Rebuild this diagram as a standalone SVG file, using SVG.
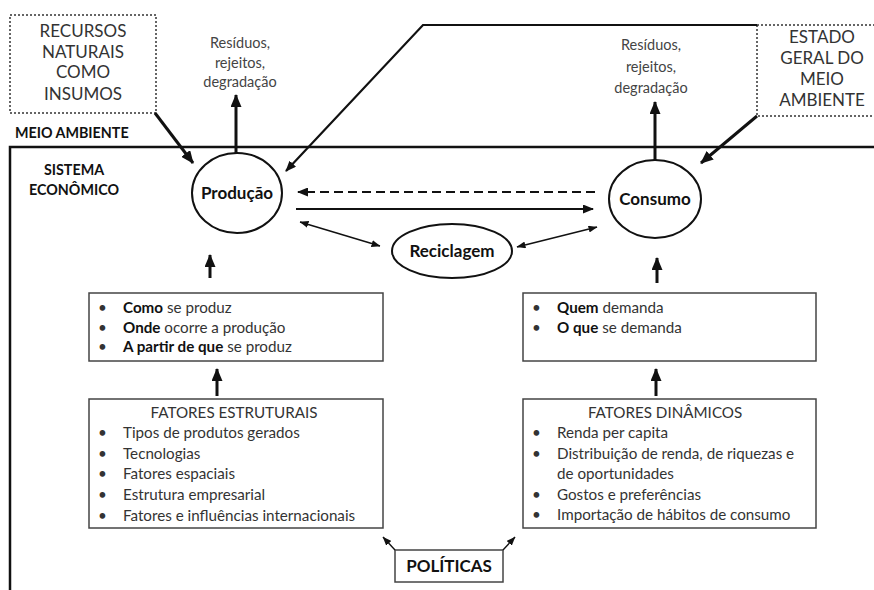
<svg xmlns="http://www.w3.org/2000/svg" width="874" height="590" viewBox="0 0 874 590">
<defs>
<style>
text{font-family:Lato,"Liberation Sans",sans-serif;}
.b{font-weight:bold;fill:#111;}
.n{fill:#333;}
.big{font-size:17px;}
.sm{font-size:15.2px;}
.res{font-size:14.5px;fill:#444;}
.lbl{font-size:14.3px;font-weight:bold;fill:#111;}
.box{fill:#fff;stroke:#444;stroke-width:1.5;}
.dot{fill:#fff;stroke:#333;stroke-width:1.5;stroke-dasharray:2,2;}
.ell{fill:#fff;stroke:#111;stroke-width:2;}
.thick{fill:none;stroke:#111;stroke-width:3;}
.med{fill:none;stroke:#111;stroke-width:2.2;}
.thin{fill:none;stroke:#111;stroke-width:1.4;}
</style>
<marker id="ah" markerWidth="13" markerHeight="11" refX="12" refY="5.5" orient="auto" markerUnits="userSpaceOnUse"><path d="M0,0 L13,5.5 L0,11 z" fill="#111"/></marker>
<marker id="am" markerWidth="11" markerHeight="9" refX="10" refY="4.5" orient="auto" markerUnits="userSpaceOnUse"><path d="M0,0 L11,4.5 L0,9 z" fill="#111"/></marker>
<marker id="at" markerWidth="9" markerHeight="7" refX="8.5" refY="3.5" orient="auto-start-reverse" markerUnits="userSpaceOnUse"><path d="M0,0 L9,3.5 L0,7 z" fill="#111"/></marker>
</defs>
<rect width="874" height="590" fill="#fff"/>

<g id="sistema">
<rect x="10" y="147" width="880" height="460" fill="none" stroke="#111" stroke-width="2.5"/>
<text x="15" y="138" class="lbl">MEIO AMBIENTE</text>
<text x="74" y="175" class="lbl" text-anchor="middle">SISTEMA</text>
<text x="74" y="195" class="lbl" text-anchor="middle">ECONÔMICO</text>
</g>

<g id="recursos">
<rect x="10" y="15" width="146" height="98" class="dot"/>
<text class="n big" text-anchor="middle" x="83"><tspan x="83" y="37">RECURSOS</tspan><tspan x="83" y="58">NATURAIS</tspan><tspan x="83" y="78">COMO</tspan><tspan x="83" y="100">INSUMOS</tspan></text>
</g>

<g id="estado">
<rect x="757" y="25" width="130" height="91" class="dot"/>
<text class="n big" text-anchor="middle" x="822"><tspan x="822" y="43">ESTADO</tspan><tspan x="822" y="64">GERAL DO</tspan><tspan x="822" y="85">MEIO</tspan><tspan x="822" y="106">AMBIENTE</tspan></text>
</g>

<g id="residuos1">
<text class="res" text-anchor="middle"><tspan x="240" y="48">Resíduos,</tspan><tspan x="240" y="68">rejeitos,</tspan><tspan x="240" y="87">degradação</tspan></text>
</g>
<g id="residuos2">
<text class="res" text-anchor="middle"><tspan x="651" y="50">Resíduos,</tspan><tspan x="651" y="72">rejeitos,</tspan><tspan x="651" y="93">degradação</tspan></text>
</g>

<g id="producao">
<ellipse cx="237" cy="193" rx="45" ry="40" class="ell"/>
<text x="237" y="199" class="b big" text-anchor="middle">Produção</text>
</g>

<g id="consumo">
<ellipse cx="655" cy="199" rx="46" ry="39" class="ell"/>
<text x="655" y="205" class="b big" text-anchor="middle">Consumo</text>
</g>

<g id="reciclagem">
<ellipse cx="452" cy="251" rx="60" ry="27" class="ell"/>
<text x="452" y="257" class="b big" text-anchor="middle">Reciclagem</text>
</g>

<g id="como">
<rect x="89" y="293" width="294" height="68" class="box"/>
<text class="sm n">
<tspan x="98" y="313">•</tspan><tspan x="123" y="313" class="b">Como</tspan><tspan> se produz</tspan>
<tspan x="98" y="333">•</tspan><tspan x="123" y="333" class="b">Onde</tspan><tspan> ocorre a produção</tspan>
<tspan x="98" y="352">•</tspan><tspan x="123" y="352" class="b">A partir de que</tspan><tspan> se produz</tspan>
</text>
</g>

<g id="quem">
<rect x="523" y="293" width="293" height="68" class="box"/>
<text class="sm n">
<tspan x="532" y="313">•</tspan><tspan x="557" y="313" class="b">Quem</tspan><tspan> demanda</tspan>
<tspan x="532" y="333">•</tspan><tspan x="557" y="333" class="b">O que</tspan><tspan> se demanda</tspan>
</text>
</g>

<g id="estruturais">
<rect x="89" y="399" width="294" height="129" class="box"/>
<text class="sm n">
<tspan x="236" y="418" text-anchor="middle">FATORES ESTRUTURAIS</tspan>
<tspan x="98" y="438">•</tspan><tspan x="123" y="438">Tipos de produtos gerados</tspan>
<tspan x="98" y="459">•</tspan><tspan x="123" y="459">Tecnologias</tspan>
<tspan x="98" y="479">•</tspan><tspan x="123" y="479">Fatores espaciais</tspan>
<tspan x="98" y="500">•</tspan><tspan x="123" y="500">Estrutura empresarial</tspan>
<tspan x="98" y="521">•</tspan><tspan x="123" y="521">Fatores e influências internacionais</tspan>
</text>
</g>

<g id="dinamicos">
<rect x="523" y="399" width="293" height="129" class="box"/>
<text class="sm n">
<tspan x="667" y="418" text-anchor="middle">FATORES DINÂMICOS</tspan>
<tspan x="532" y="438">•</tspan><tspan x="557" y="438">Renda per capita</tspan>
<tspan x="532" y="459">•</tspan><tspan x="557" y="459">Distribuição de renda, de riquezas e</tspan>
<tspan x="557" y="479">de oportunidades</tspan>
<tspan x="532" y="500">•</tspan><tspan x="557" y="500">Gostos e preferências</tspan>
<tspan x="532" y="520">•</tspan><tspan x="557" y="520">Importação de hábitos de consumo</tspan>
</text>
</g>

<g id="politicas">
<rect x="395" y="550" width="108" height="32" class="box"/>
<text x="449" y="572" class="b big" text-anchor="middle">POLÍTICAS</text>
</g>

<g id="connectors">
<path d="M155,113 L193,163" class="thick" marker-end="url(#ah)"/>
<path d="M757,116 L701,163" class="thick" marker-end="url(#ah)"/>
<path d="M757,25 L423,25 L286,171" class="med" marker-end="url(#am)"/>
<path d="M236,153 L236,95" class="thick" marker-end="url(#ah)"/>
<path d="M655,160 L655,102" class="thick" marker-end="url(#ah)"/>
<path d="M595,192 L298,192" class="med" stroke-dasharray="9,5" marker-end="url(#am)"/>
<path d="M296,209 L593,209" class="med" marker-end="url(#am)"/>
<path d="M300,222 L380,246" class="thin" marker-start="url(#at)" marker-end="url(#at)"/>
<path d="M517,247 L597,227" class="thin" marker-start="url(#at)" marker-end="url(#at)"/>
<path d="M210,278 L210,255" class="thick" marker-end="url(#ah)"/>
<path d="M657,283 L657,258" class="thick" marker-end="url(#ah)"/>
<path d="M217,396 L217,369" class="thick" marker-end="url(#ah)"/>
<path d="M656,396 L656,369" class="thick" marker-end="url(#ah)"/>
<path d="M395,550 L383,537" class="thin" marker-end="url(#at)"/>
<path d="M503,550 L515,537" class="thin" marker-end="url(#at)"/>
</g>
</svg>
